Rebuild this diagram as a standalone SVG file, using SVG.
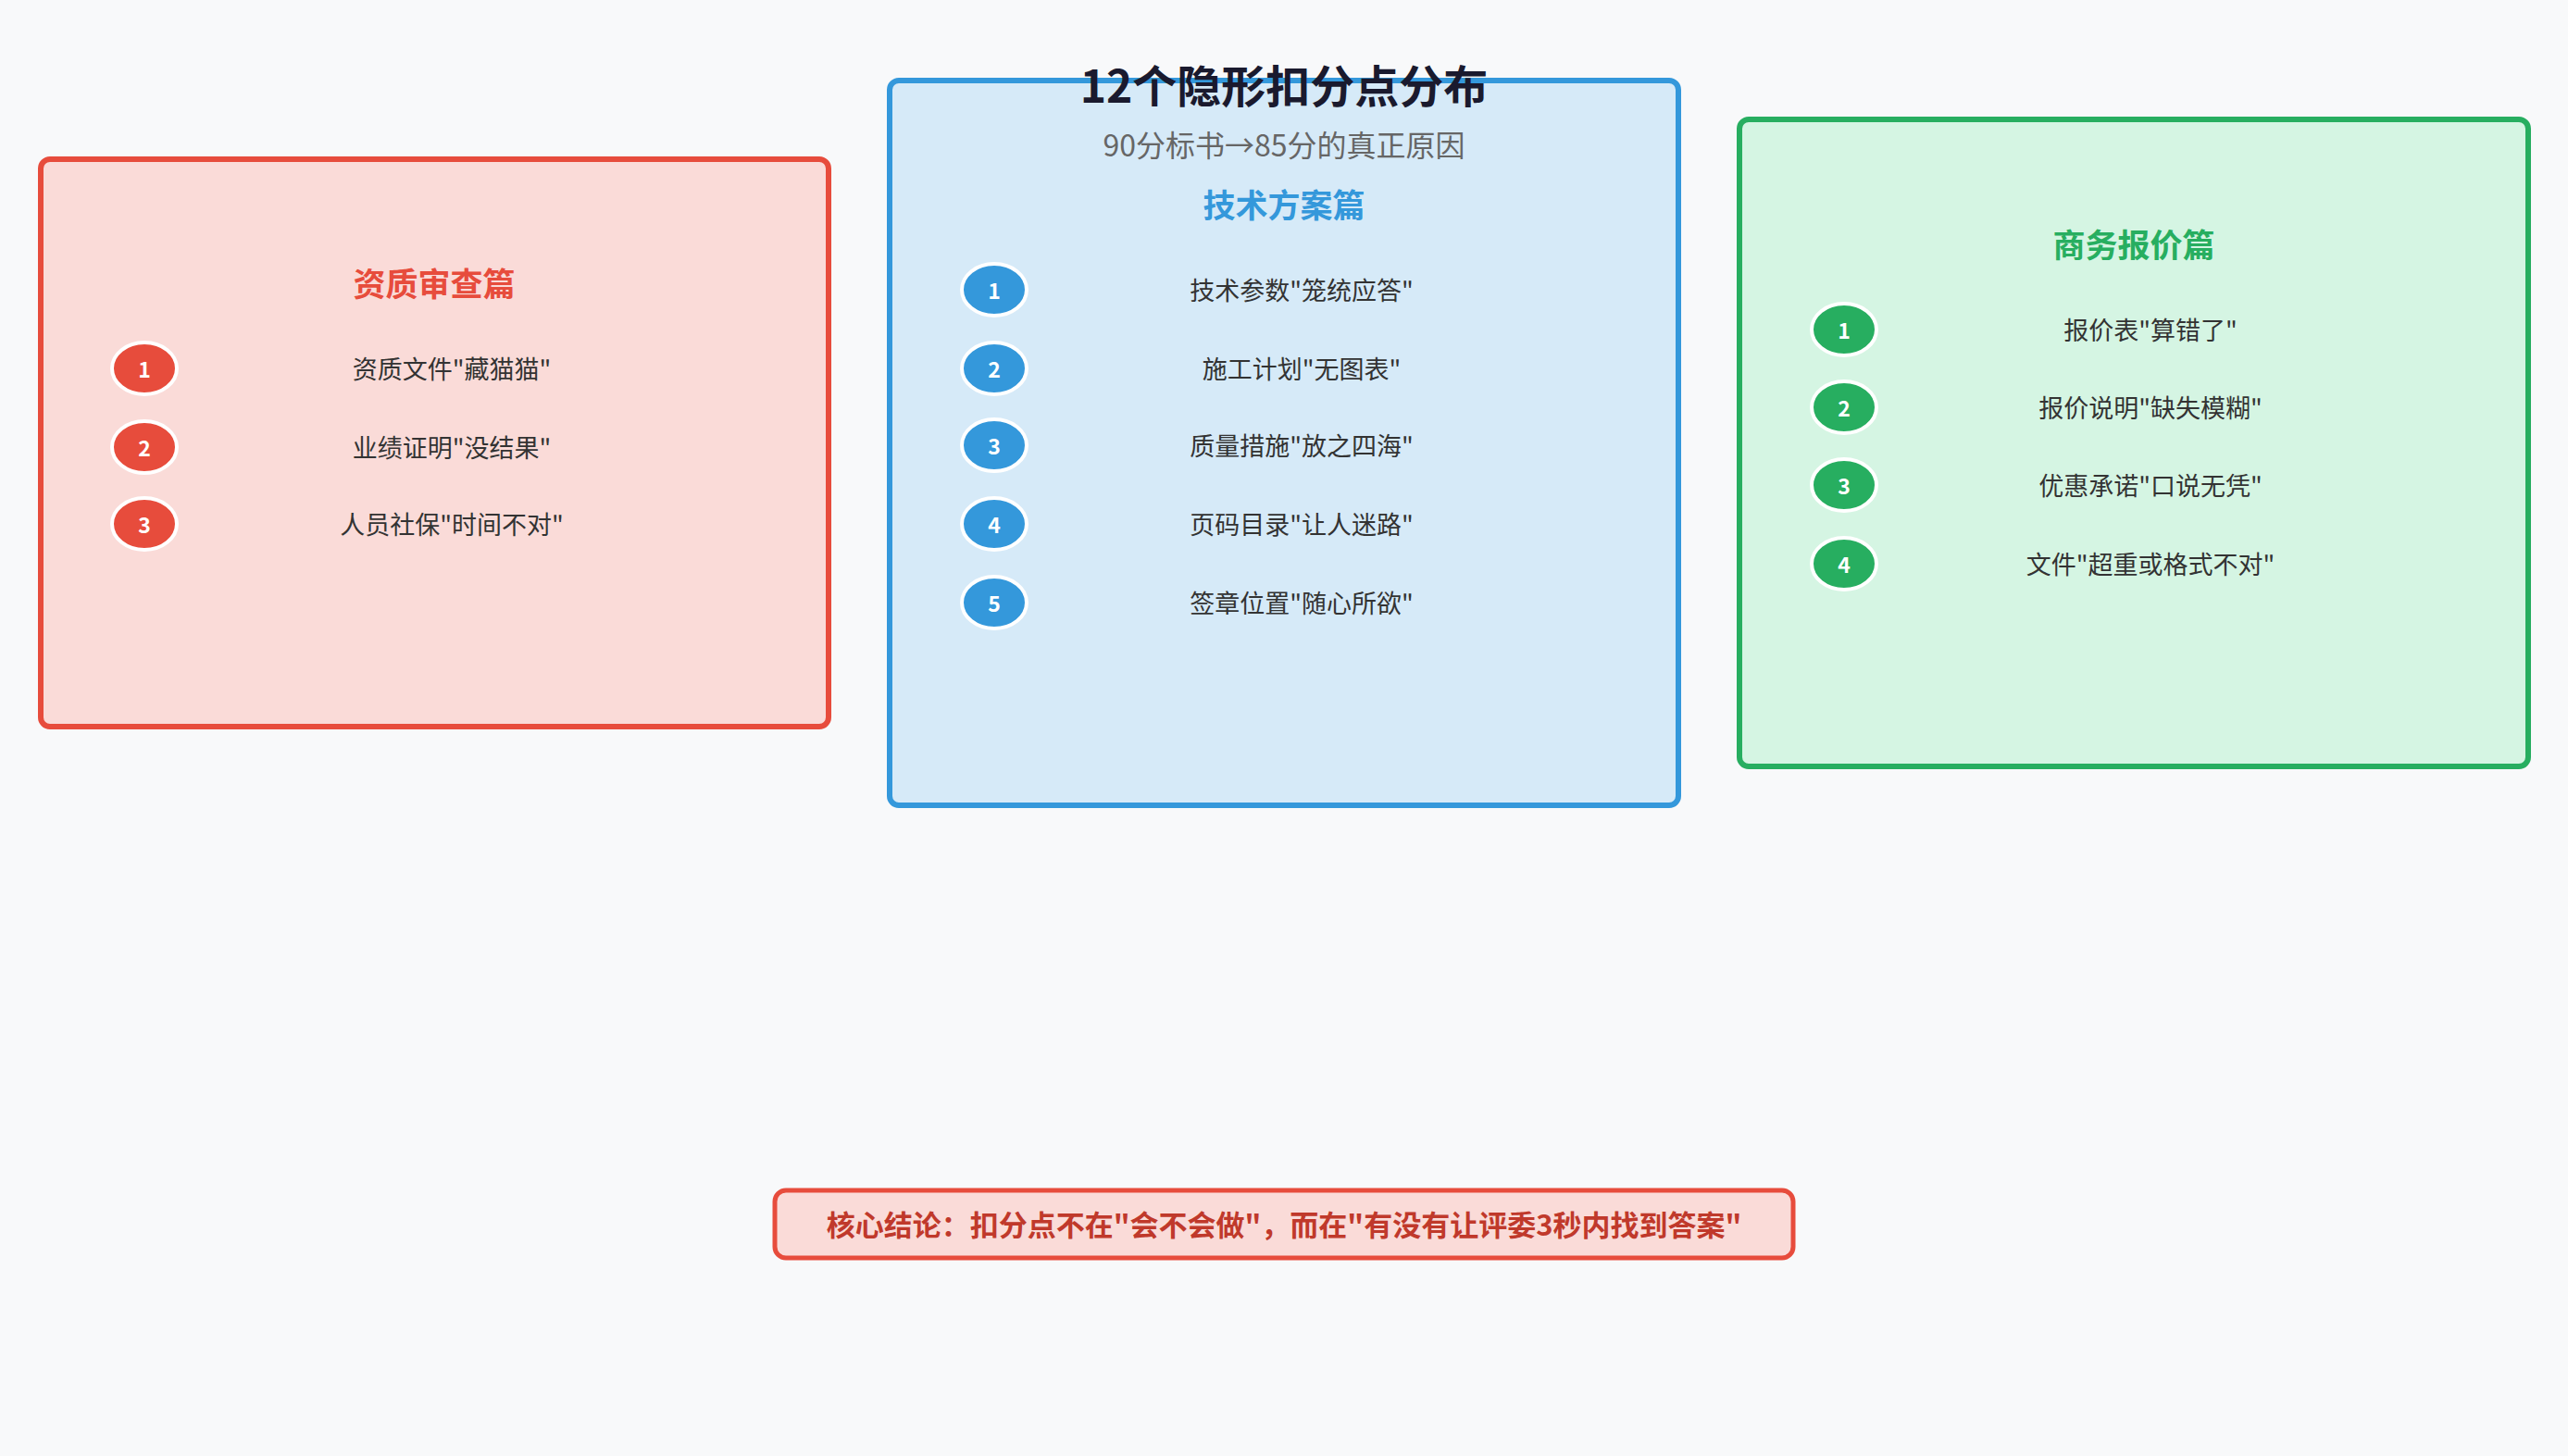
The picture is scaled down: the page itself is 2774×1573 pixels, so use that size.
<svg xmlns="http://www.w3.org/2000/svg" width="2774" height="1573" viewBox="0 0 2774 1573">
<style>
text{font-family:"Noto Sans CJK SC","DejaVu Sans",sans-serif;text-anchor:middle;dominant-baseline:central}
.box{stroke-width:6}
.h{font-size:35px;font-weight:bold}
.it{font-size:27px;fill:#333}
.n{font-size:23px;font-weight:bold;fill:#fff}
.c{stroke:#fff;stroke-width:4}
.r{fill:#e74c3c}.b{fill:#3498db}.g{fill:#27ae60}
</style>
<rect width="2774" height="1573" fill="#f8f9fa"/>
<g id="red">
<rect class="box" x="44" y="172" width="851" height="613" rx="10" fill="#fadbd8" stroke="#e74c3c"/>
<text class="h r" x="469" y="304">资质审查篇</text>
<ellipse class="c r" cx="156" cy="398" rx="35" ry="28"/><text class="n" x="156" y="398">1</text><text class="it" x="488" y="397">资质文件"藏猫猫"</text>
<ellipse class="c r" cx="156" cy="483" rx="35" ry="28"/><text class="n" x="156" y="483">2</text><text class="it" x="488" y="482">业绩证明"没结果"</text>
<ellipse class="c r" cx="156" cy="566" rx="35" ry="28"/><text class="n" x="156" y="566">3</text><text class="it" x="488" y="565">人员社保"时间不对"</text>
</g>
<g id="blue">
<rect class="box" x="961" y="87" width="852" height="783" rx="10" fill="#d6eaf8" stroke="#3498db"/>
<text class="h b" x="1387" y="219">技术方案篇</text>
<ellipse class="c b" cx="1074" cy="313" rx="35" ry="28"/><text class="n" x="1074" y="313">1</text><text class="it" x="1406" y="312">技术参数"笼统应答"</text>
<ellipse class="c b" cx="1074" cy="398" rx="35" ry="28"/><text class="n" x="1074" y="398">2</text><text class="it" x="1406" y="397">施工计划"无图表"</text>
<ellipse class="c b" cx="1074" cy="481" rx="35" ry="28"/><text class="n" x="1074" y="481">3</text><text class="it" x="1406" y="480">质量措施"放之四海"</text>
<ellipse class="c b" cx="1074" cy="566" rx="35" ry="28"/><text class="n" x="1074" y="566">4</text><text class="it" x="1406" y="565">页码目录"让人迷路"</text>
<ellipse class="c b" cx="1074" cy="651" rx="35" ry="28"/><text class="n" x="1074" y="651">5</text><text class="it" x="1406" y="650">签章位置"随心所欲"</text>
</g>
<g id="green">
<rect class="box" x="1879" y="129" width="852" height="699" rx="10" fill="#d5f5e3" stroke="#27ae60"/>
<text class="h g" x="2305" y="262">商务报价篇</text>
<ellipse class="c g" cx="1992" cy="356" rx="35" ry="28"/><text class="n" x="1992" y="356">1</text><text class="it" x="2323" y="355">报价表"算错了"</text>
<ellipse class="c g" cx="1992" cy="440" rx="35" ry="28"/><text class="n" x="1992" y="440">2</text><text class="it" x="2323" y="439">报价说明"缺失模糊"</text>
<ellipse class="c g" cx="1992" cy="524" rx="35" ry="28"/><text class="n" x="1992" y="524">3</text><text class="it" x="2323" y="523">优惠承诺"口说无凭"</text>
<ellipse class="c g" cx="1992" cy="609" rx="35" ry="28"/><text class="n" x="1992" y="609">4</text><text class="it" x="2323" y="608">文件"超重或格式不对"</text>
</g>
<g id="title">
<text x="1387" y="90" font-size="48" font-weight="bold" fill="#1a1a2e">12个隐形扣分点分布</text>
<text x="1387" y="155" font-size="32" fill="#666">90分标书→85分的真正原因</text>
</g>
<g id="conclusion">
<rect x="837" y="1286" width="1100" height="73" rx="12" fill="#fadbd8" stroke="#e74c3c" stroke-width="5"/>
<text x="1387" y="1321" font-size="31" font-weight="bold" fill="#c0392b">核心结论：扣分点不在"会不会做"，而在"有没有让评委3秒内找到答案"</text>
</g>
<g id="connectors"/>
</svg>
